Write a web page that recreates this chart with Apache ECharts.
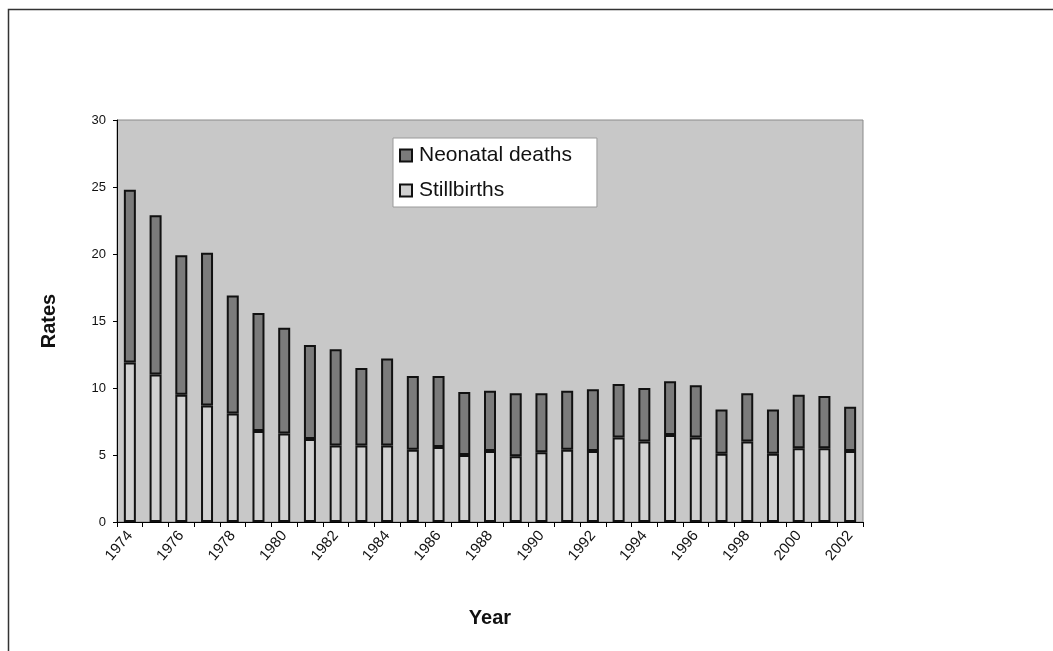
<!DOCTYPE html>
<html>
<head>
<meta charset="utf-8">
<script src="https://cdn.jsdelivr.net/npm/echarts@6/dist/echarts.min.js"></script>
<style>
  html, body { margin: 0; padding: 0; background: #ffffff; }
  #chart { width: 1053px; height: 651px; }
</style>
</head>
<body>
<div id="chart"></div>
<script>
// Perinatal mortality rates by year
const years = ['1974','1975','1976','1977','1978','1979','1980','1981','1982','1983',
  '1984','1985','1986','1987','1988','1989','1990','1991','1992','1993',
  '1994','1995','1996','1997','1998','1999','2000','2001','2002'];

const stillbirths = [11.9, 11.0, 9.5, 8.7, 8.1, 6.8, 6.6, 6.2, 5.7, 5.7,
  5.7, 5.4, 5.6, 5.0, 5.3, 4.9, 5.2, 5.4, 5.3, 6.3,
  6.0, 6.5, 6.3, 5.1, 6.0, 5.1, 5.5, 5.5, 5.3];

const neonatalDeaths = [12.9, 11.9, 10.4, 11.4, 8.8, 8.8, 7.9, 7.0, 7.2, 5.8,
  6.5, 5.5, 5.3, 4.7, 4.5, 4.7, 4.4, 4.4, 4.6, 4.0,
  4.0, 4.0, 3.9, 3.3, 3.6, 3.3, 4.0, 3.9, 3.3];

const yTicks = { min: 0, max: 30, interval: 5 };

const chart = echarts.init(document.getElementById('chart'));
const font = 'Liberation Sans, Arial, sans-serif';

chart.setOption({
  animation: false,
  backgroundColor: '#ffffff',
  graphic: [{
    type: 'rect',
    left: 6, top: 7,
    shape: { width: 1100, height: 700 },
    style: { fill: 'none', stroke: '#333333', lineWidth: 1.5 },
    silent: true
  }],
  grid: {
    left: 117, top: 120, right: 190, bottom: 129,
    show: true,
    backgroundColor: '#c8c8c8',
    borderColor: '#8a8a8a',
    borderWidth: 1
  },
  legend: {
    orient: 'vertical',
    left: 393, top: 138,
    backgroundColor: '#ffffff',
    borderColor: '#9a9a9a',
    borderWidth: 1,
    padding: [7, 25, 6, 6],
    itemGap: 14,
    itemWidth: 12, itemHeight: 12,
    icon: 'rect',
    textStyle: { fontFamily: font, fontSize: 21, color: '#111111', padding: [0, 0, 0, 2] },
    data: ['Neonatal deaths', 'Stillbirths']
  },
  xAxis: {
    type: 'category',
    data: years,
    name: 'Year',
    nameLocation: 'middle',
    nameGap: 86,
    nameTextStyle: { fontFamily: font, fontSize: 20, fontWeight: 'bold', color: '#111111' },
    axisLine: { lineStyle: { color: '#000000', width: 1 } },
    axisTick: { show: true, alignWithLabel: false, interval: 0, length: 5, lineStyle: { color: '#000000' } },
    axisLabel: {
      interval: 1,
      rotate: 50,
      margin: 11,
      fontFamily: font, fontSize: 15, color: '#111111'
    },
    splitLine: { show: false }
  },
  yAxis: {
    type: 'value',
    min: yTicks.min, max: yTicks.max, interval: yTicks.interval,
    name: 'Rates',
    nameLocation: 'middle',
    nameGap: 58,
    nameRotate: 90,
    nameTextStyle: { fontFamily: font, fontSize: 20, fontWeight: 'bold', color: '#111111' },
    axisLine: { show: true, lineStyle: { color: '#000000', width: 1 } },
    axisTick: { show: true, length: 4, lineStyle: { color: '#000000' } },
    axisLabel: { fontFamily: font, fontSize: 13, color: '#111111', margin: 11 },
    splitLine: { show: false }
  },
  series: [
    {
      name: 'Stillbirths',
      type: 'bar',
      stack: 'total',
      data: stillbirths,
      barWidth: 12,
      itemStyle: { color: '#d0d0d0', borderColor: '#111111', borderWidth: 2 }
    },
    {
      name: 'Neonatal deaths',
      type: 'bar',
      stack: 'total',
      data: neonatalDeaths,
      barWidth: 12,
      itemStyle: { color: '#7b7b7b', borderColor: '#111111', borderWidth: 2 }
    }
  ]
});
</script>
</body>
</html>
